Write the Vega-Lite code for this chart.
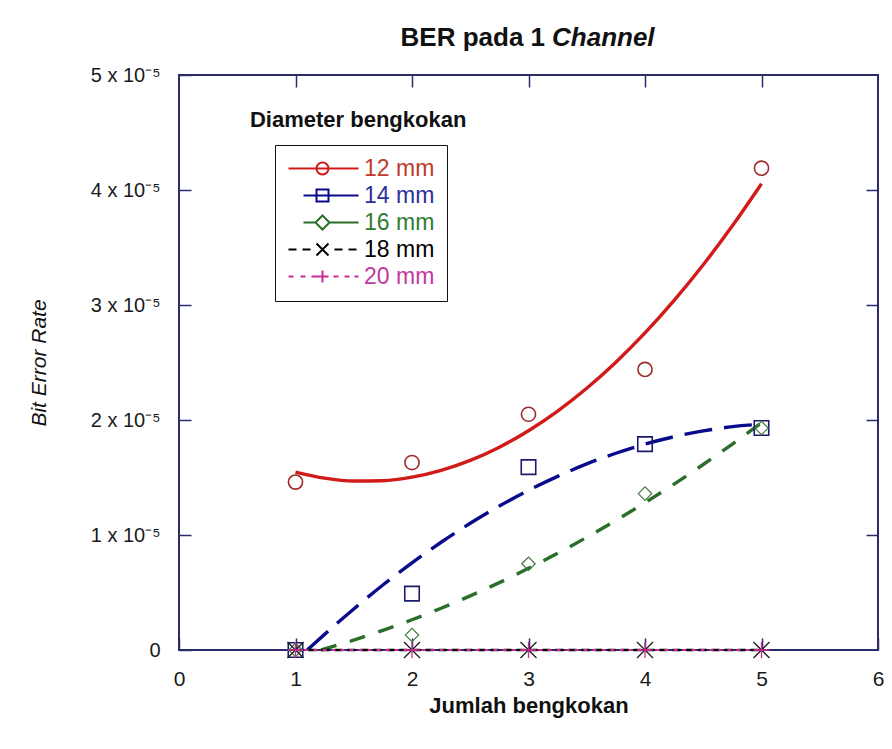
{
  "$schema": "https://vega.github.io/schema/vega-lite/v6.json",
  "autosize": {"type": "none"},
  "width": 699,
  "height": 575,
  "padding": {"left": 179, "top": 75, "right": 14, "bottom": 99},
  "background": "white",
  "config": {
    "view": {"stroke": "#2b2b6b", "strokeWidth": 2},
    "axis": {"grid": false, "domain": false},
    "font": "Liberation Sans"
  },
  "datasets": {
    "pts": [
      {"series": "12 mm", "jumlah": 1, "ber": 1.46e-5},
      {"series": "12 mm", "jumlah": 2, "ber": 1.63e-5},
      {"series": "12 mm", "jumlah": 3, "ber": 2.05e-5},
      {"series": "12 mm", "jumlah": 4, "ber": 2.44e-5},
      {"series": "12 mm", "jumlah": 5, "ber": 4.19e-5},
      {"series": "14 mm", "jumlah": 1, "ber": 0},
      {"series": "14 mm", "jumlah": 2, "ber": 0.49e-5},
      {"series": "14 mm", "jumlah": 3, "ber": 1.59e-5},
      {"series": "14 mm", "jumlah": 4, "ber": 1.79e-5},
      {"series": "14 mm", "jumlah": 5, "ber": 1.93e-5},
      {"series": "16 mm", "jumlah": 1, "ber": 0},
      {"series": "16 mm", "jumlah": 2, "ber": 0.13e-5},
      {"series": "16 mm", "jumlah": 3, "ber": 0.75e-5},
      {"series": "16 mm", "jumlah": 4, "ber": 1.36e-5},
      {"series": "16 mm", "jumlah": 5, "ber": 1.93e-5},
      {"series": "18 mm", "jumlah": 1, "ber": 0},
      {"series": "18 mm", "jumlah": 2, "ber": 0},
      {"series": "18 mm", "jumlah": 3, "ber": 0},
      {"series": "18 mm", "jumlah": 4, "ber": 0},
      {"series": "18 mm", "jumlah": 5, "ber": 0},
      {"series": "20 mm", "jumlah": 1, "ber": 0},
      {"series": "20 mm", "jumlah": 2, "ber": 0},
      {"series": "20 mm", "jumlah": 3, "ber": 0},
      {"series": "20 mm", "jumlah": 4, "ber": 0},
      {"series": "20 mm", "jumlah": 5, "ber": 0}
    ],
    "fit": [
      {"series": "12 mm", "jumlah": 1, "ber": 1.547e-5},
      {"series": "12 mm", "jumlah": 1.25, "ber": 1.494e-5},
      {"series": "12 mm", "jumlah": 1.5, "ber": 1.469e-5},
      {"series": "12 mm", "jumlah": 1.75, "ber": 1.472e-5},
      {"series": "12 mm", "jumlah": 2, "ber": 1.503e-5},
      {"series": "12 mm", "jumlah": 2.25, "ber": 1.562e-5},
      {"series": "12 mm", "jumlah": 2.5, "ber": 1.649e-5},
      {"series": "12 mm", "jumlah": 2.75, "ber": 1.764e-5},
      {"series": "12 mm", "jumlah": 3, "ber": 1.907e-5},
      {"series": "12 mm", "jumlah": 3.25, "ber": 2.078e-5},
      {"series": "12 mm", "jumlah": 3.5, "ber": 2.276e-5},
      {"series": "12 mm", "jumlah": 3.75, "ber": 2.503e-5},
      {"series": "12 mm", "jumlah": 4, "ber": 2.757e-5},
      {"series": "12 mm", "jumlah": 4.25, "ber": 3.04e-5},
      {"series": "12 mm", "jumlah": 4.5, "ber": 3.35e-5},
      {"series": "12 mm", "jumlah": 4.75, "ber": 3.689e-5},
      {"series": "12 mm", "jumlah": 5, "ber": 4.055e-5},
      {"series": "14 mm", "jumlah": 1.1, "ber": 0},
      {"series": "14 mm", "jumlah": 1.25, "ber": 0.136e-5},
      {"series": "14 mm", "jumlah": 1.5, "ber": 0.357e-5},
      {"series": "14 mm", "jumlah": 1.75, "ber": 0.565e-5},
      {"series": "14 mm", "jumlah": 2, "ber": 0.758e-5},
      {"series": "14 mm", "jumlah": 2.25, "ber": 0.937e-5},
      {"series": "14 mm", "jumlah": 2.5, "ber": 1.102e-5},
      {"series": "14 mm", "jumlah": 2.75, "ber": 1.252e-5},
      {"series": "14 mm", "jumlah": 3, "ber": 1.389e-5},
      {"series": "14 mm", "jumlah": 3.25, "ber": 1.51e-5},
      {"series": "14 mm", "jumlah": 3.5, "ber": 1.618e-5},
      {"series": "14 mm", "jumlah": 3.75, "ber": 1.711e-5},
      {"series": "14 mm", "jumlah": 4, "ber": 1.79e-5},
      {"series": "14 mm", "jumlah": 4.25, "ber": 1.855e-5},
      {"series": "14 mm", "jumlah": 4.5, "ber": 1.905e-5},
      {"series": "14 mm", "jumlah": 4.75, "ber": 1.942e-5},
      {"series": "14 mm", "jumlah": 5, "ber": 1.963e-5},
      {"series": "16 mm", "jumlah": 1.22, "ber": 0},
      {"series": "16 mm", "jumlah": 1.5, "ber": 0.086e-5},
      {"series": "16 mm", "jumlah": 1.75, "ber": 0.171e-5},
      {"series": "16 mm", "jumlah": 2, "ber": 0.263e-5},
      {"series": "16 mm", "jumlah": 2.25, "ber": 0.363e-5},
      {"series": "16 mm", "jumlah": 2.5, "ber": 0.471e-5},
      {"series": "16 mm", "jumlah": 2.75, "ber": 0.586e-5},
      {"series": "16 mm", "jumlah": 3, "ber": 0.71e-5},
      {"series": "16 mm", "jumlah": 3.25, "ber": 0.841e-5},
      {"series": "16 mm", "jumlah": 3.5, "ber": 0.98e-5},
      {"series": "16 mm", "jumlah": 3.75, "ber": 1.127e-5},
      {"series": "16 mm", "jumlah": 4, "ber": 1.281e-5},
      {"series": "16 mm", "jumlah": 4.25, "ber": 1.443e-5},
      {"series": "16 mm", "jumlah": 4.5, "ber": 1.613e-5},
      {"series": "16 mm", "jumlah": 4.75, "ber": 1.791e-5},
      {"series": "16 mm", "jumlah": 5, "ber": 1.976e-5},
      {"series": "18 mm", "jumlah": 1, "ber": 0},
      {"series": "18 mm", "jumlah": 5, "ber": 0},
      {"series": "20 mm", "jumlah": 1, "ber": 0},
      {"series": "20 mm", "jumlah": 5, "ber": 0}
    ]
  },
  "layer": [
    {
      "data": {"name": "pts"},
      "mark": {"type": "point", "opacity": 0},
      "encoding": {
        "x": {
          "field": "jumlah",
          "type": "quantitative",
          "scale": {"domain": [0, 6], "nice": false, "zero": false},
          "axis": {"orient": "top", "values": [1, 2, 3, 4, 5], "labels": false, "tickSize": -12, "tickWidth": 1.5, "tickColor": "#2b2b6b", "title": null}
        },
        "y": {
          "field": "ber",
          "type": "quantitative",
          "scale": {"domain": [0, 5e-5], "nice": false, "zero": false},
          "axis": {"orient": "right", "values": [1e-5, 2e-5, 3e-5, 4e-5], "labels": false, "tickSize": -12, "tickWidth": 1.5, "tickColor": "#2b2b6b", "title": null}
        }
      }
    },
    {
      "layer": [
        {
          "data": {"name": "fit"},
          "transform": [{"filter": "datum.series == '12 mm'"}],
          "mark": {"type": "line", "strokeWidth": 3.4, "interpolate": "monotone", "color": "#d11a1a"},
          "encoding": {
            "x": {
              "field": "jumlah",
              "type": "quantitative",
              "title": "Jumlah bengkokan",
              "scale": {"domain": [0, 6], "nice": false, "zero": false},
              "axis": {
                "orient": "bottom",
                "values": [0, 1, 2, 3, 4, 5, 6],
                "format": "d",
                "labelFlush": false,
                "tickSize": -12,
                "tickWidth": 1.5,
                "tickColor": "#2b2b6b",
                "labelPadding": 30,
                "labelFont": "Liberation Sans",
                "labelFontSize": 21,
                "labelColor": "#1a1a1a",
                "titleFont": "Liberation Sans",
                "titleFontSize": 22,
                "titleFontWeight": "bold",
                "titleColor": "#111111",
                "titlePadding": 6
              }
            },
            "y": {
              "field": "ber",
              "type": "quantitative",
              "title": "Bit Error Rate",
              "scale": {"domain": [0, 5e-5], "nice": false, "zero": false},
              "axis": {
                "orient": "left",
                "values": [0, 1e-5, 2e-5, 3e-5, 4e-5, 5e-5],
                "labelExpr": "datum.value == 0 ? '0' : round(datum.value * 100000) + ' x 10⁻⁵'",
                "labelFlush": false,
                "tickSize": -12,
                "tickWidth": 1.5,
                "tickColor": "#2b2b6b",
                "labelPadding": 31,
                "labelFont": "Liberation Sans",
                "labelFontSize": 20,
                "labelColor": "#1a1a1a",
                "titleFont": "Liberation Sans",
                "titleFontSize": 21,
                "titleFontWeight": "normal",
                "titleFontStyle": "italic",
                "titleColor": "#111111",
                "titlePadding": 41
              }
            }
          }
        },
        {
          "data": {"name": "fit"},
          "transform": [{"filter": "datum.series == '14 mm'"}],
          "mark": {"type": "line", "strokeWidth": 3.4, "interpolate": "monotone", "color": "#0a0a8c", "strokeDash": [28, 12]},
          "encoding": {
            "x": {"field": "jumlah", "type": "quantitative", "title": "Jumlah bengkokan"},
            "y": {"field": "ber", "type": "quantitative", "title": "Bit Error Rate"}
          }
        },
        {
          "data": {"name": "fit"},
          "transform": [{"filter": "datum.series == '16 mm'"}],
          "mark": {"type": "line", "strokeWidth": 3.4, "interpolate": "monotone", "color": "#2a6e2a", "strokeDash": [16, 14]},
          "encoding": {
            "x": {"field": "jumlah", "type": "quantitative", "title": "Jumlah bengkokan"},
            "y": {"field": "ber", "type": "quantitative", "title": "Bit Error Rate"}
          }
        },
        {
          "data": {"name": "fit"},
          "transform": [{"filter": "datum.series == '18 mm'"}],
          "mark": {"type": "line", "strokeWidth": 2.6, "color": "#000000", "strokeDash": [8, 5]},
          "encoding": {
            "x": {"field": "jumlah", "type": "quantitative", "title": "Jumlah bengkokan"},
            "y": {"field": "ber", "type": "quantitative", "title": "Bit Error Rate"}
          }
        },
        {
          "data": {"name": "fit"},
          "transform": [{"filter": "datum.series == '20 mm'"}],
          "mark": {"type": "line", "strokeWidth": 2, "color": "#cc2a99", "strokeDash": [4, 5]},
          "encoding": {
            "x": {"field": "jumlah", "type": "quantitative", "title": "Jumlah bengkokan"},
            "y": {"field": "ber", "type": "quantitative", "title": "Bit Error Rate"}
          }
        },
        {
          "data": {"name": "pts"},
          "transform": [{"filter": "datum.series == '12 mm'"}],
          "mark": {"type": "point", "shape": "circle", "filled": false, "size": 200, "strokeWidth": 1.6, "color": "#9e2a2a", "opacity": 1},
          "encoding": {
            "x": {"field": "jumlah", "type": "quantitative", "title": "Jumlah bengkokan"},
            "y": {"field": "ber", "type": "quantitative", "title": "Bit Error Rate"}
          }
        },
        {
          "data": {"name": "pts"},
          "transform": [{"filter": "datum.series == '14 mm'"}],
          "mark": {"type": "point", "shape": "square", "filled": false, "size": 210, "strokeWidth": 1.6, "color": "#1c1c6e", "opacity": 1},
          "encoding": {
            "x": {"field": "jumlah", "type": "quantitative", "title": "Jumlah bengkokan"},
            "y": {"field": "ber", "type": "quantitative", "title": "Bit Error Rate"}
          }
        },
        {
          "data": {"name": "pts"},
          "transform": [{"filter": "datum.series == '16 mm'"}],
          "mark": {"type": "point", "shape": "diamond", "filled": false, "size": 180, "strokeWidth": 1.2, "color": "#3e7a3e", "opacity": 1},
          "encoding": {
            "x": {"field": "jumlah", "type": "quantitative", "title": "Jumlah bengkokan"},
            "y": {"field": "ber", "type": "quantitative", "title": "Bit Error Rate"}
          }
        },
        {
          "data": {"name": "pts"},
          "transform": [{"filter": "datum.series == '18 mm'"}],
          "mark": {"type": "point", "shape": "M-1,-1L1,1M-1,1L1,-1", "filled": false, "size": 256, "strokeWidth": 1.3, "color": "#1a1a1a", "opacity": 1},
          "encoding": {
            "x": {"field": "jumlah", "type": "quantitative", "title": "Jumlah bengkokan"},
            "y": {"field": "ber", "type": "quantitative", "title": "Bit Error Rate"}
          }
        },
        {
          "data": {"name": "pts"},
          "transform": [{"filter": "datum.series == '20 mm'"}],
          "mark": {"type": "point", "shape": "M-1,0H1M0,-1V1", "filled": false, "size": 256, "strokeWidth": 1.3, "color": "#cc2a8f", "opacity": 1},
          "encoding": {
            "x": {"field": "jumlah", "type": "quantitative", "title": "Jumlah bengkokan"},
            "y": {"field": "ber", "type": "quantitative", "title": "Bit Error Rate"}
          }
        },
        {
          "data": {"name": "pts"},
          "mark": {"type": "point", "filled": false, "size": 16, "opacity": 0},
          "encoding": {
            "x": {"field": "jumlah", "type": "quantitative", "title": "Jumlah bengkokan"},
            "y": {"field": "ber", "type": "quantitative", "title": "Bit Error Rate"},
            "color": {
              "field": "series",
              "type": "nominal",
              "scale": {
                "domain": ["12 mm", "14 mm", "16 mm", "18 mm", "20 mm"],
                "range": ["#d11a1a", "#0a0a8c", "#2a6e2a", "#000000", "#cc2a99"]
              },
              "legend": {
                "title": null,
                "orient": "none",
                "legendX": 96,
                "legendY": 70,
                "padding": 12,
                "strokeColor": "#111111",
                "fillColor": "white",
                "symbolSize": 16,
                "symbolStrokeWidth": 2,
                "symbolOpacity": 1,
                "symbolFillColor": "transparent",
                "labelOffset": 54,
                "labelFont": "Liberation Sans",
                "labelFontSize": 23,
                "labelLimit": 200,
                "rowPadding": 3,
                "labelColor": {"expr": "datum.value == '12 mm' ? '#c0392b' : datum.value == '14 mm' ? '#2e2e9e' : datum.value == '16 mm' ? '#2f7d32' : datum.value == '18 mm' ? '#000000' : '#c2389e'"}
              }
            },
            "shape": {
              "field": "series",
              "type": "nominal",
              "scale": {
                "domain": ["12 mm", "14 mm", "16 mm", "18 mm", "20 mm"],
                "range": [
                  "M-5,0H30M15,0A3,3 0 1,1 9,0A3,3 0 1,1 15,0",
                  "M2.5,0H30M9,-3H15V3H9Z",
                  "M2.5,0H8.5M15.5,0H30M12,-3.5L15.5,0L12,3.5L8.5,0Z",
                  "M-5,0H-1M2,0H6M9,-3L15,3M9,3L15,-3M18,0H22M25,0H29",
                  "M-5,0H-2.5M1,0H3.5M6.5,0H9M12,-3V3M9,0H15M17.5,0H20M23,0H25.5M28,0H30"
                ]
              },
              "legend": {"title": null}
            }
          }
        },
        {
          "data": {"values": [{"t": "BER pada 1"}]},
          "mark": {"type": "text", "align": "right", "baseline": "middle", "font": "Liberation Sans", "fontSize": 26, "fontWeight": "bold", "color": "#111111"},
          "encoding": {
            "text": {"field": "t", "type": "nominal"},
            "x": {"datum": 3.142, "type": "quantitative"},
            "y": {"datum": 5.322e-5, "type": "quantitative"}
          }
        },
        {
          "data": {"values": [{"t": "Channel"}]},
          "mark": {"type": "text", "align": "left", "baseline": "middle", "font": "Liberation Sans", "fontSize": 26, "fontWeight": "bold", "fontStyle": "italic", "color": "#111111"},
          "encoding": {
            "text": {"field": "t", "type": "nominal"},
            "x": {"datum": 3.202, "type": "quantitative"},
            "y": {"datum": 5.322e-5, "type": "quantitative"}
          }
        },
        {
          "data": {"values": [{"t": "Diameter bengkokan"}]},
          "mark": {"type": "text", "align": "left", "baseline": "middle", "font": "Liberation Sans", "fontSize": 22, "fontWeight": "bold", "color": "#111111"},
          "encoding": {
            "text": {"field": "t", "type": "nominal"},
            "x": {"datum": 0.609, "type": "quantitative"},
            "y": {"datum": 4.609e-5, "type": "quantitative"}
          }
        }
      ]
    }
  ],
  "resolve": {"scale": {"x": "independent", "y": "independent"}}
}
